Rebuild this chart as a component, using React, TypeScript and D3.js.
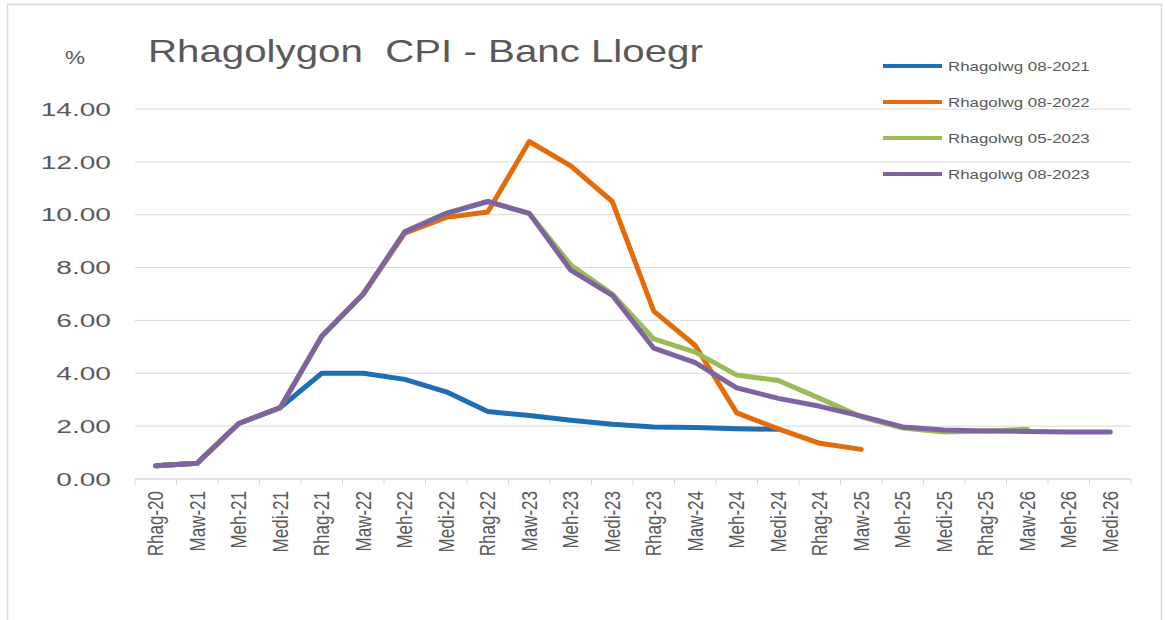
import React from 'react'
import * as d3 from 'd3'

// categories on the x axis
const months = [
  'Rhag-20', 'Maw-21', 'Meh-21', 'Medi-21', 'Rhag-21', 'Maw-22', 'Meh-22', 'Medi-22',
  'Rhag-22', 'Maw-23', 'Meh-23', 'Medi-23', 'Rhag-23', 'Maw-24', 'Meh-24', 'Medi-24',
  'Rhag-24', 'Maw-25', 'Meh-25', 'Medi-25', 'Rhag-25', 'Maw-26', 'Meh-26', 'Medi-26',
]

// forecast series
const rhagolwg082021 = [0.5, 0.6, 2.1, 2.7, 4.0, 4.0, 3.77, 3.3, 2.55, 2.4, 2.22, 2.07, 1.97, 1.95, 1.9, 1.88]
const rhagolwg082022 = [0.5, 0.6, 2.1, 2.7, 5.4, 7.0, 9.3, 9.9, 10.1, 12.77, 11.85, 10.5, 6.35, 5.05, 2.5, 1.9, 1.35, 1.12]
const rhagolwg052023 = [0.5, 0.6, 2.1, 2.7, 5.4, 7.0, 9.35, 10.05, 10.5, 10.05, 8.1, 7.0, 5.3, 4.8, 3.93, 3.73, 3.05, 2.35, 1.93, 1.78, 1.82, 1.88]
const rhagolwg082023 = [0.5, 0.6, 2.1, 2.7, 5.4, 7.0, 9.35, 10.05, 10.5, 10.05, 7.9, 6.95, 4.95, 4.4, 3.45, 3.05, 2.75, 2.38, 1.97, 1.85, 1.82, 1.8, 1.78, 1.78]

const yTicks = [0, 2, 4, 6, 8, 10, 12, 14]

const series = [
  { name: 'Rhagolwg 08-2021', values: rhagolwg082021, color: '#1f6db3' },
  { name: 'Rhagolwg 08-2022', values: rhagolwg082022, color: '#e36c0a' },
  { name: 'Rhagolwg 05-2023', values: rhagolwg052023, color: '#9bbb59' },
  { name: 'Rhagolwg 08-2023', values: rhagolwg082023, color: '#7f63a1' },
]

const textColor = '#595959'
const font = 'Liberation Sans, Arial, sans-serif'
const stretch = 1.25 // the original picture is widened a bit

const App = () => {
  const width = 1165
  const height = 620
  const marginLeft = 135
  const marginRight = 34
  const marginTop = 109
  const marginBottom = 141

  const x = d3.scaleBand().domain(months).range([marginLeft, width - marginRight])
  const y = d3.scaleLinear().domain([0, 14]).range([height - marginBottom, marginTop])
  const cx = (i: number) => (x(months[i]) as number) + x.bandwidth() / 2

  const line = d3.line<number>()
    .x((d, i) => cx(i))
    .y(d => y(d))

  const x0 = marginLeft
  const x1 = width - marginRight
  const yBase = y(0)

  return (
    <svg width={width} height={height} style={{ position: 'absolute', left: 0, top: 0 }} fontFamily={font}>
      <rect x={0} y={0} width={width} height={height} fill="#fff" />
      <rect x={7.5} y={4.5} width={1154} height={700} fill="none" stroke="#d9d9d9" strokeWidth={1.5} />

      {/* gridlines */}
      {yTicks.filter(t => t > 0).map(t => (
        <line key={t} x1={x0} x2={x1} y1={y(t)} y2={y(t)} stroke="#d9d9d9" strokeWidth={1} />
      ))}

      {/* y labels */}
      {yTicks.map(t => (
        <g key={t} transform={`translate(111,${y(t)}) scale(1.48,1)`}>
          <text textAnchor="end" dy="0.35em" fontSize={19} fill={textColor}>{t.toFixed(2)}</text>
        </g>
      ))}

      {/* x axis */}
      <line x1={x0} x2={x1} y1={yBase} y2={yBase} stroke="#d9d9d9" strokeWidth={1.5} />
      {d3.range(months.length + 1).map(i => {
        const xx = marginLeft + i * x.bandwidth()
        return <line key={i} x1={xx} x2={xx} y1={yBase} y2={yBase + 6} stroke="#d9d9d9" strokeWidth={1} />
      })}
      {months.map((m, i) => (
        <g key={m} transform={`translate(${cx(i)},491) scale(${stretch},1) rotate(-90)`}>
          <text textAnchor="end" dy="0.36em" fontSize={17} fill={textColor}>{m}</text>
        </g>
      ))}

      {/* lines */}
      {series.map(s => (
        <path key={s.name} d={line(s.values) as string} fill="none" stroke={s.color}
          strokeWidth={5} strokeLinejoin="round" strokeLinecap="round" />
      ))}

      {/* titles */}
      <g transform={`translate(65,64) scale(${stretch},1)`}>
        <text fontSize={18} fill={textColor}>%</text>
      </g>
      <g transform={`translate(148,62) scale(1.32,1)`}>
        <text fontSize={30.5} fill={textColor} style={{ whiteSpace: 'pre' }}>{'Rhagolygon  CPI - Banc Lloegr'}</text>
      </g>

      {/* legend */}
      {series.map((s, i) => {
        const ly = 66 + i * 36
        return (
          <g key={s.name}>
            <line x1={883} x2={942} y1={ly} y2={ly} stroke={s.color} strokeWidth={4} />
            <g transform={`translate(948,${ly}) scale(1.3,1)`}>
              <text dy="0.35em" fontSize={13} fill={textColor}>{s.name}</text>
            </g>
          </g>
        )
      })}
    </svg>
  )
}

export default App
